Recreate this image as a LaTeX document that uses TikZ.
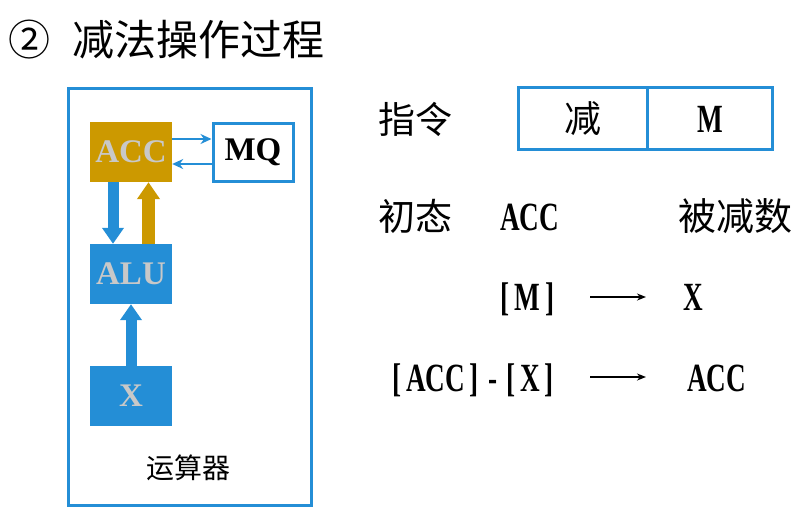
\documentclass[tikz,border=0pt]{standalone}
\usepackage{fontspec}
\setmainfont{Liberation Serif}
\newfontfamily\cjk{Noto Sans CJK SC}
\newfontfamily\narrowserif[FakeStretch=0.68,UprightFont={* Bold}]{Liberation Serif}
\usetikzlibrary{arrows.meta}
\definecolor{myblue}{RGB}{36,142,214}
\definecolor{mygold}{RGB}{204,153,0}
\definecolor{mygray}{RGB}{200,200,200}
\newcommand\hwc[1]{\makebox[18.5pt]{#1}}
\tikzset{
  reg/.style={minimum width=82pt,minimum height=60pt,inner sep=0pt,
    font=\fontsize{33pt}{36pt}\selectfont\bfseries,text=mygray},
  bluebox/.style={draw=myblue,line width=3pt,inner sep=0pt},
  cjklabel/.style={inner sep=0pt,font=\fontsize{37pt}{40pt}\selectfont\cjk},
  latin/.style={inner sep=0pt,anchor=base west,font=\fontsize{40pt}{42pt}\selectfont\narrowserif},
  thinarrow/.style={myblue,line width=2.5pt,-{Stealth[length=11pt,width=10pt]}},
  fatblue/.style={myblue,line width=11pt,-{Triangle[length=16pt,width=21pt]}},
  fatgold/.style={mygold,line width=13pt,-{Triangle[length=17pt,width=22pt]}},
  textarrow/.style={black,line width=1.5pt,-{Stealth[length=9pt,width=7pt]}}
}
\begin{document}
\begin{tikzpicture}[x=1pt,y=-1pt]
\useasboundingbox (0,0) rectangle (811,515);
% title
\node[anchor=west,inner sep=0pt,font=\fontsize{42pt}{44pt}\selectfont\cjk] (title) at (8,40) {②\hspace{22pt}减法操作过程};
% ALU unit container
\node[bluebox,minimum width=243pt,minimum height=417pt] (unit) at (189.5,296.5) {};
\node[reg,fill=mygold] (acc) at (131,152) {ACC};
\node[bluebox,minimum width=80pt,minimum height=58pt,font=\fontsize{33pt}{36pt}\selectfont\bfseries] (mq) at (253,152) {MQ};
\node[reg,fill=myblue] (alu) at (131,274) {ALU};
\node[reg,fill=myblue] (xreg) at (131,396) {X};
\node[inner sep=0pt,font=\fontsize{28pt}{30pt}\selectfont\cjk] (unitlabel) at (188,468) {运算器};
% connectors
\draw[thinarrow] ([yshift=13pt]acc.east) -- ([yshift=13pt]mq.west);
\draw[thinarrow] ([yshift=-12pt]mq.west) -- ([yshift=-12pt]acc.east);
\draw[fatblue] ([xshift=-18pt]acc.south) -- ([xshift=-18pt]alu.north);
\draw[fatgold] ([xshift=17.5pt]alu.north) -- ([xshift=17.5pt]acc.south);
\draw[fatblue] (xreg.north) -- (alu.south);
% right side
\node[cjklabel] (instr) at (415,119) {指令};
\node[bluebox,minimum width=129pt,minimum height=62pt,font=\fontsize{37pt}{40pt}\selectfont\cjk] (op) at (582.5,118.5) {减};
\node[bluebox,minimum width=125pt,minimum height=62pt] (addr) at (709.5,118.5) {};
\node[latin,anchor=base] (addrtext) at (710,132) {M};
\node[cjklabel] (init) at (415,216) {初态};
\node[latin] (acc1) at (500,230) {ACC};
\node[cjklabel,font=\fontsize{38pt}{40pt}\selectfont\cjk] (minuend) at (735,216) {被减数};
\node[latin,anchor=base east] (m) at (559,310) {\hwc{[}M\hwc{]}};
\node[latin] (x1) at (683,310) {X};
\node[latin,anchor=base east] (diff) at (559,391) {\hwc{[}ACC\hwc{]}\hwc{-}\hwc{[}X\hwc{]}};
\node[latin] (acc2) at (687,391) {ACC};
\coordinate (a1s) at (590,297);
\coordinate (a1e) at (646,297);
\coordinate (a2s) at (590,377);
\coordinate (a2e) at (646,377);
\draw[textarrow] (a1s) -- (a1e);
\draw[textarrow] (a2s) -- (a2e);
\end{tikzpicture}
\end{document}
